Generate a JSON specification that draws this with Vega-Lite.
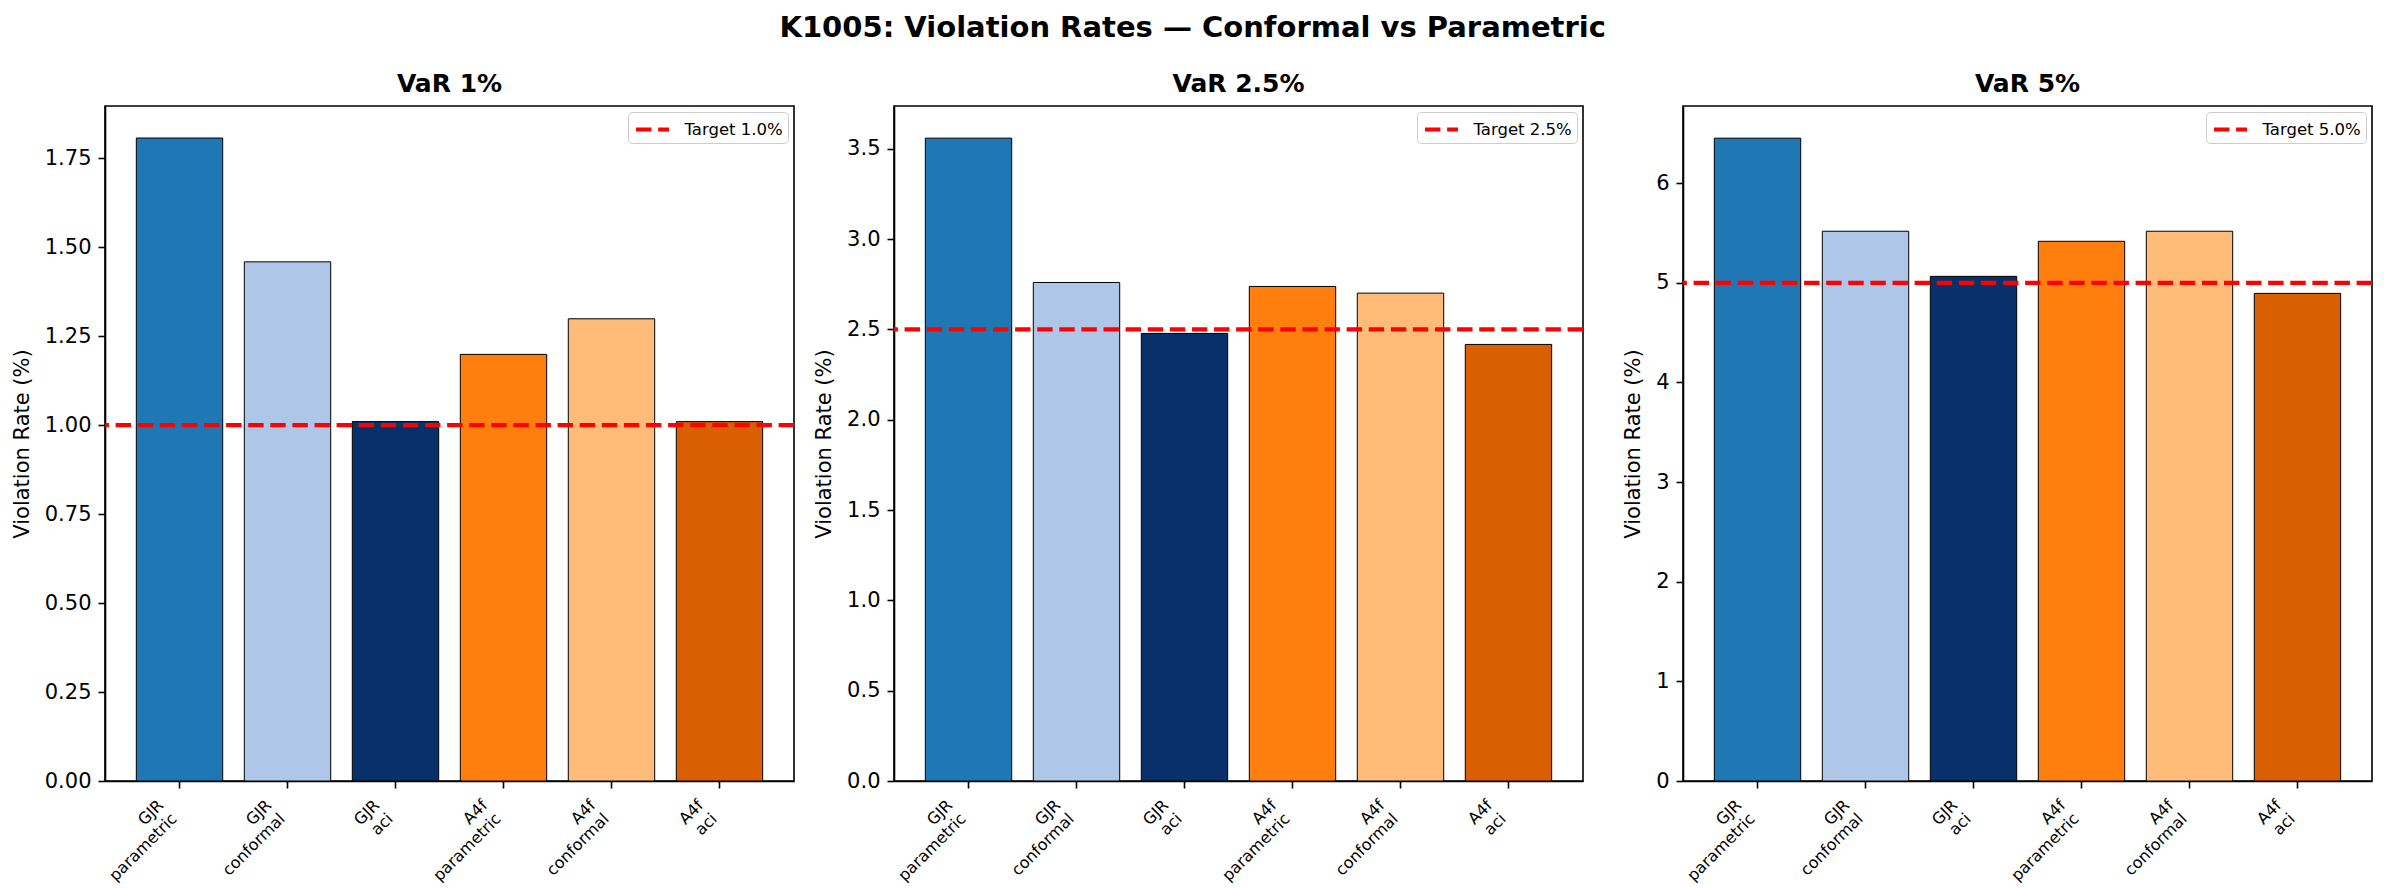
{
  "$schema": "https://vega.github.io/schema/vega-lite/v6.json",
  "background": "white",
  "padding": {"left": 10, "top": 14, "right": 5, "bottom": 0},
  "title": {
    "text": "K1005: Violation Rates — Conformal vs Parametric",
    "fontSize": 29,
    "fontWeight": "bold",
    "anchor": "middle",
    "offset": 28
  },
  "datasets": {
    "rates": [
      {"level": "VaR 1%", "method": "GJR parametric", "rate": 1.807},
      {"level": "VaR 1%", "method": "GJR conformal", "rate": 1.459},
      {"level": "VaR 1%", "method": "GJR aci", "rate": 1.01},
      {"level": "VaR 1%", "method": "A4f parametric", "rate": 1.199},
      {"level": "VaR 1%", "method": "A4f conformal", "rate": 1.299},
      {"level": "VaR 1%", "method": "A4f aci", "rate": 1.01},
      {"level": "VaR 2.5%", "method": "GJR parametric", "rate": 3.559},
      {"level": "VaR 2.5%", "method": "GJR conformal", "rate": 2.76},
      {"level": "VaR 2.5%", "method": "GJR aci", "rate": 2.478},
      {"level": "VaR 2.5%", "method": "A4f parametric", "rate": 2.738},
      {"level": "VaR 2.5%", "method": "A4f conformal", "rate": 2.701},
      {"level": "VaR 2.5%", "method": "A4f aci", "rate": 2.417},
      {"level": "VaR 5%", "method": "GJR parametric", "rate": 6.452},
      {"level": "VaR 5%", "method": "GJR conformal", "rate": 5.518},
      {"level": "VaR 5%", "method": "GJR aci", "rate": 5.065},
      {"level": "VaR 5%", "method": "A4f parametric", "rate": 5.417},
      {"level": "VaR 5%", "method": "A4f conformal", "rate": 5.518},
      {"level": "VaR 5%", "method": "A4f aci", "rate": 4.894}
    ],
    "targets": [
      {"level": "VaR 1%", "target": 1.0, "label": "Target 1.0%"},
      {"level": "VaR 2.5%", "target": 2.5, "label": "Target 2.5%"},
      {"level": "VaR 5%", "target": 5.0, "label": "Target 5.0%"}
    ]
  },
  "bounds": "flush",
  "spacing": 100,
  "resolve": {
    "scale": {"x": "independent", "y": "independent", "fill": "independent", "stroke": "independent"},
    "legend": {"stroke": "independent"}
  },
  "hconcat": [
    {
      "width": 689,
      "height": 675,
      "title": "VaR 1%",
      "layer": [
        {
          "data": {"name": "rates"},
          "transform": [{"filter": "datum.level === 'VaR 1%'"}],
          "mark": {"type": "bar", "stroke": "black", "strokeWidth": 1},
          "encoding": {
            "x": {"field": "method", "type": "nominal", "sort": null, "title": null,
                  "scale": {"paddingInner": 0.2, "paddingOuter": 0.29}},
            "y": {"field": "rate", "type": "quantitative", "title": "Violation Rate (%)",
                  "scale": {"domain": [0, 1.897], "nice": false},
                  "axis": {"values": [0, 0.25, 0.5, 0.75, 1.0, 1.25, 1.5, 1.75], "format": ".2f"}},
            "fill": {"field": "method", "type": "nominal", "legend": null,
                     "scale": {"domain": ["GJR parametric", "GJR conformal", "GJR aci", "A4f parametric", "A4f conformal", "A4f aci"],
                               "range": ["#1f77b4", "#aec7e8", "#08306b", "#ff7f0e", "#ffbb78", "#d95f02"]}}
          }
        },
        {
          "data": {"name": "targets"},
          "transform": [{"filter": "datum.level === 'VaR 1%'"}],
          "mark": {"type": "rule", "strokeDash": [15.4, 6.7], "strokeWidth": 4.2},
          "encoding": {
            "y": {"field": "target", "type": "quantitative", "scale": {"domain": [0, 1.897], "nice": false}},
            "stroke": {"field": "label", "type": "nominal", "scale": {"range": ["red"]},
                       "legend": {"title": null}}
          }
        }
      ]
    },
    {
      "width": 689,
      "height": 675,
      "title": "VaR 2.5%",
      "layer": [
        {
          "data": {"name": "rates"},
          "transform": [{"filter": "datum.level === 'VaR 2.5%'"}],
          "mark": {"type": "bar", "stroke": "black", "strokeWidth": 1},
          "encoding": {
            "x": {"field": "method", "type": "nominal", "sort": null, "title": null,
                  "scale": {"paddingInner": 0.2, "paddingOuter": 0.29}},
            "y": {"field": "rate", "type": "quantitative", "title": "Violation Rate (%)",
                  "scale": {"domain": [0, 3.737], "nice": false},
                  "axis": {"values": [0, 0.5, 1.0, 1.5, 2.0, 2.5, 3.0, 3.5], "format": ".1f"}},
            "fill": {"field": "method", "type": "nominal", "legend": null,
                     "scale": {"domain": ["GJR parametric", "GJR conformal", "GJR aci", "A4f parametric", "A4f conformal", "A4f aci"],
                               "range": ["#1f77b4", "#aec7e8", "#08306b", "#ff7f0e", "#ffbb78", "#d95f02"]}}
          }
        },
        {
          "data": {"name": "targets"},
          "transform": [{"filter": "datum.level === 'VaR 2.5%'"}],
          "mark": {"type": "rule", "strokeDash": [15.4, 6.7], "strokeWidth": 4.2},
          "encoding": {
            "y": {"field": "target", "type": "quantitative", "scale": {"domain": [0, 3.737], "nice": false}},
            "stroke": {"field": "label", "type": "nominal", "scale": {"range": ["red"]},
                       "legend": {"title": null}}
          }
        }
      ]
    },
    {
      "width": 689,
      "height": 675,
      "title": "VaR 5%",
      "layer": [
        {
          "data": {"name": "rates"},
          "transform": [{"filter": "datum.level === 'VaR 5%'"}],
          "mark": {"type": "bar", "stroke": "black", "strokeWidth": 1},
          "encoding": {
            "x": {"field": "method", "type": "nominal", "sort": null, "title": null,
                  "scale": {"paddingInner": 0.2, "paddingOuter": 0.29}},
            "y": {"field": "rate", "type": "quantitative", "title": "Violation Rate (%)",
                  "scale": {"domain": [0, 6.775], "nice": false},
                  "axis": {"values": [0, 1, 2, 3, 4, 5, 6], "format": "d"}},
            "fill": {"field": "method", "type": "nominal", "legend": null,
                     "scale": {"domain": ["GJR parametric", "GJR conformal", "GJR aci", "A4f parametric", "A4f conformal", "A4f aci"],
                               "range": ["#1f77b4", "#aec7e8", "#08306b", "#ff7f0e", "#ffbb78", "#d95f02"]}}
          }
        },
        {
          "data": {"name": "targets"},
          "transform": [{"filter": "datum.level === 'VaR 5%'"}],
          "mark": {"type": "rule", "strokeDash": [15.4, 6.7], "strokeWidth": 4.2},
          "encoding": {
            "y": {"field": "target", "type": "quantitative", "scale": {"domain": [0, 6.775], "nice": false}},
            "stroke": {"field": "label", "type": "nominal", "scale": {"range": ["red"]},
                       "legend": {"title": null}}
          }
        }
      ]
    }
  ],
  "config": {
    "font": "DejaVu Sans",
    "view": {"stroke": "black", "strokeWidth": 1.6},
    "title": {"font": "DejaVu Sans", "fontSize": 25, "fontWeight": "bold", "color": "black", "offset": 9, "baseline": "alphabetic"},
    "axis": {
      "labelFont": "DejaVu Sans", "titleFont": "DejaVu Sans",
      "labelColor": "black", "titleColor": "black",
      "domainColor": "black", "domainWidth": 1.6,
      "tickColor": "black", "tickWidth": 1.6, "tickSize": 7,
      "grid": false, "titleFontWeight": "normal"
    },
    "axisX": {
      "labelFontSize": 16, "labelAngle": -45, "labelAlign": "right", "labelBaseline": "bottom",
      "labelPadding": 20, "labelOffset": -13, "labelLineHeight": 19, "labelOverlap": false, "labelBound": false, "labelFlush": false,
      "labelExpr": "split(datum.label, ' ')"
    },
    "axisY": {
      "labelFontSize": 21, "titleFontSize": 21, "labelPadding": 7, "titlePadding": 12
    },
    "legend": {
      "orient": "top-right", "offset": 6, "padding": 5,
      "fillColor": "white", "strokeColor": "#cccccc", "cornerRadius": 4,
      "symbolType": "M-1.65,0L1.65,0", "symbolStrokeColor": "red", "symbolDash": [15.4, 6.7],
      "symbolStrokeWidth": 4.2, "symbolSize": 400, "symbolOffset": 7,
      "labelFont": "DejaVu Sans", "labelFontSize": 16.5, "labelColor": "black", "labelOffset": 19.5
    }
  }
}
